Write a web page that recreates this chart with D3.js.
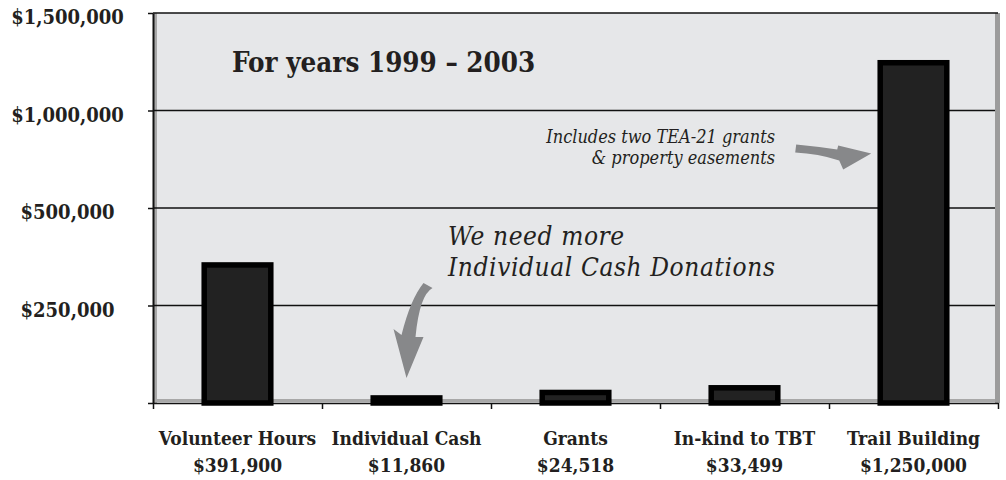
<!DOCTYPE html>
<html>
<head>
<meta charset="utf-8">
<script src="https://cdn.jsdelivr.net/npm/d3@7"></script>
<style>
  html, body { margin: 0; padding: 0; background: #ffffff; }
  svg { display: block; }
  .serif { font-family: "DejaVu Serif", serif; font-stretch: condensed; }
</style>
</head>
<body>
<svg id="chart" width="1006" height="480"></svg>
<script>
// ---- data ----
const categories = ["Volunteer Hours", "Individual Cash", "Grants", "In-kind to TBT", "Trail Building"];
const amountLabels = ["$391,900", "$11,860", "$24,518", "$33,499", "$1,250,000"];
const values = [354000, 13000, 27000, 39000, 1245000];
const yTicks = [0, 250000, 500000, 1000000, 1500000];
const yTickLabels = ["", "$250,000", "$500,000", "$1,000,000", "$1,500,000"];
const title = "For years 1999 \u2013 2003";
const noteCash = ["We need more", "Individual Cash Donations"];
const noteTrail = ["Includes two TEA-21 grants", "& property easements"];

// ---- layout ----
const plotL = 153, plotR = 998, plotT = 13, plotB = 403;
const rowStep = (plotB - plotT) / (yTicks.length - 1);
const svg = d3.select("#chart");
const ink = "#231f20";

const x = d3.scaleBand().domain(categories).range([plotL, plotR])
  .paddingInner(0.606).paddingOuter(0.303);
const y = d3.scaleLinear().domain(yTicks).range(yTicks.map((d, i) => plotB - i * rowStep));

// plot background & 3D frame
svg.append("rect").attr("x", plotL).attr("y", plotT).attr("width", plotR - plotL - 3).attr("height", plotB - plotT)
  .attr("fill", "#e6e7e9");
svg.append("rect").attr("x", plotR - 3).attr("y", plotT).attr("width", 5).attr("height", plotB - plotT)
  .attr("fill", "#9c9c9c");
svg.append("rect").attr("x", plotL).attr("y", plotB - 4).attr("width", plotR - plotL - 3).attr("height", 3)
  .attr("fill", "#a8a8a8");
svg.append("rect").attr("x", plotL + 1).attr("y", plotT).attr("width", 3).attr("height", plotB - plotT)
  .attr("fill", "#a8a8a8");

// gridlines
svg.append("g").selectAll("line").data(yTicks.slice(1)).join("line")
  .attr("x1", plotL).attr("x2", d => d === yTicks[yTicks.length - 1] ? plotR : plotR - 3)
  .attr("y1", d => y(d)).attr("y2", d => y(d))
  .attr("stroke", "#111").attr("stroke-width", 1.5);

// left axis (ticks only)
const yAxis = svg.append("g").attr("transform", `translate(${plotL},0)`)
  .call(d3.axisLeft(y).tickValues(yTicks).tickSize(5).tickSizeOuter(0).tickFormat(""));
yAxis.select(".domain").attr("stroke", "#111").attr("stroke-width", 2);
yAxis.selectAll(".tick line").attr("stroke", "#111").attr("stroke-width", 1.5);

// bottom axis with ticks at band boundaries
const bounds = categories.map(c => x(c) + x.bandwidth() / 2 - x.step() / 2);
bounds.push(bounds[bounds.length - 1] + x.step());
const xb = d3.scaleLinear().domain([0, bounds.length - 1]).range([bounds[0], bounds[bounds.length - 1]]);
const xAxis = svg.append("g").attr("transform", `translate(0,${plotB})`)
  .call(d3.axisBottom(xb).tickValues(d3.range(bounds.length)).tickSize(6).tickSizeOuter(0).tickFormat(""));
xAxis.select(".domain").attr("stroke", "#111").attr("stroke-width", 1.5);
xAxis.selectAll(".tick line").attr("stroke", "#111").attr("stroke-width", 1.5);

// bars
svg.append("g").selectAll("rect").data(categories).join("rect")
  .attr("x", c => x(c))
  .attr("width", x.bandwidth())
  .attr("y", (c, i) => y(values[i]))
  .attr("height", (c, i) => y(0) - y(values[i]))
  .attr("fill", "#222222").attr("stroke", "#000").attr("stroke-width", 5.5);

// y tick labels (centered column)
svg.append("g").selectAll("text").data(yTicks.slice(1)).join("text")
  .attr("class", "serif")
  .attr("x", 67.5).attr("y", d => y(d) + 11)
  .attr("text-anchor", "middle").attr("font-weight", "bold").attr("font-size", 20)
  .attr("fill", ink)
  .text((d, i) => yTickLabels[i + 1]);

// category labels (two lines each)
const cl = svg.append("g").selectAll("text").data(categories).join("text").attr("class", "serif")
  .attr("text-anchor", "middle").attr("font-weight", "bold").attr("font-size", 19)
  .attr("fill", ink);
cl.append("tspan").attr("x", c => x(c) + x.bandwidth() / 2).attr("y", 445).text(c => c);
cl.append("tspan").attr("x", c => x(c) + x.bandwidth() / 2).attr("y", 472).text((c, i) => amountLabels[i]);

// title
svg.append("text").attr("class", "serif").attr("x", 232).attr("y", 72)
  .attr("font-weight", "bold").attr("font-size", 27.5).attr("fill", ink).text(title);

// annotation: individual cash
const t1 = svg.append("text").attr("class", "serif")
  .attr("font-style", "italic").attr("font-size", 26).attr("letter-spacing", 0.6).attr("fill", ink);
t1.selectAll("tspan").data(noteCash).join("tspan")
  .attr("x", 448).attr("y", (d, i) => 245 + i * 31).text(d => d);

// annotation: trail building
const t2 = svg.append("text").attr("class", "serif")
  .attr("text-anchor", "end")
  .attr("font-style", "italic").attr("font-size", 18).attr("fill", ink);
t2.selectAll("tspan").data(noteTrail).join("tspan")
  .attr("x", 775).attr("y", (d, i) => 143 + i * 20.5).text(d => d);

// arrows (annotation shapes, placed relative to the scales)
const arrowGray = "#87888a";
const cx1 = x("Individual Cash") + x.bandwidth() / 2;
svg.append("path")
  .attr("transform", `translate(${cx1},${y(values[1]) - 20})`)
  .attr("d", "M17,-95 L26,-90 Q13,-83 9,-41 L17,-41 L0,0 L-13,-49 L-5,-43 Q4,-79 17,-95 Z")
  .attr("fill", arrowGray);

const ax2 = x("Trail Building") - 9;
svg.append("path")
  .attr("transform", `translate(${ax2},${y(1000000) + 43})`)
  .attr("d", "M-75,-9 Q-54,-7 -34,-4 L-33,-8 L0,0 L-28,16 L-32,7 Q-53,0 -76,-1 Z")
  .attr("fill", arrowGray);
</script>
</body>
</html>
